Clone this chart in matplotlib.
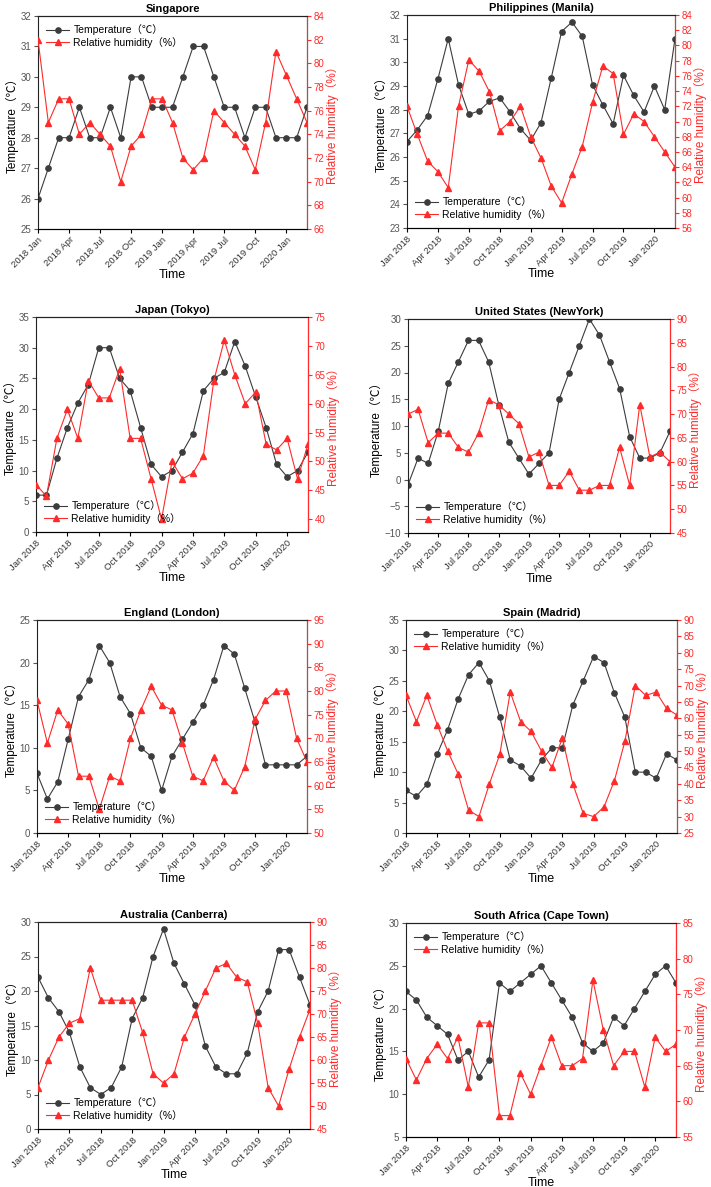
import matplotlib
matplotlib.use("Agg")
import matplotlib.pyplot as plt
import numpy as np

plt.rcParams['font.family'] = ['Liberation Sans', 'Noto Sans CJK SC', 'DejaVu Sans']

# Monthly data Jan 2018 - Mar 2020 (27 months)
months = list(range(27))
tick_idx = [0, 3, 6, 9, 12, 15, 18, 21, 24]
labels_sg = ["2018 Jan", "2018 Apr", "2018 Jul", "2018 Oct", "2019 Jan",
             "2019 Apr", "2019 Jul", "2019 Oct", "2020 Jan"]
labels_std = ["Jan 2018", "Apr 2018", "Jul 2018", "Oct 2018", "Jan 2019",
              "Apr 2019", "Jul 2019", "Oct 2019", "Jan 2020"]

sg_temp = [26, 27, 28, 28, 29, 28, 28, 29, 28, 30, 30, 29, 29, 29, 30, 31, 31, 30, 29, 29, 28, 29, 29, 28, 28, 28, 29]
sg_rh = [82, 75, 77, 77, 74, 75, 74, 73, 70, 73, 74, 77, 77, 75, 72, 71, 72, 76, 75, 74, 73, 71, 75, 81, 79, 77, 75]

ph_temp = [26.65, 27.15, 27.75, 29.3, 31.0, 29.05, 27.8, 27.95, 28.35, 28.5, 27.9, 27.2, 26.7, 27.45,
           29.35, 31.3, 31.7, 31.1, 29.05, 28.2, 27.4, 29.45, 28.6, 27.9, 29.0, 28.0, 31.0]
ph_rh = [72, 68.3, 64.8, 63.4, 61.3, 72, 78.1, 76.6, 73.9, 68.8, 70, 72, 68, 65.2, 61.5, 59.3,
         63.1, 66.7, 72.5, 77.3, 76.3, 68.3, 71, 70, 68, 66, 64]

jp_temp = [6, 6, 12, 17, 21, 24, 30, 30, 25, 23, 17, 11, 9, 10, 13, 16, 23, 25, 26, 31, 27, 22, 17, 11, 9, 10, 13]
jp_rh = [46, 44, 54, 59, 54, 64, 61, 61, 66, 54, 54, 47, 40, 50, 47, 48, 51, 64, 71, 65, 60, 62, 53, 52, 54, 47, 53]

us_temp = [-1, 4, 3, 9, 18, 22, 26, 26, 22, 14, 7, 4, 1, 3, 5, 15, 20, 25, 30, 27, 22, 17, 8, 4, 4, 5, 9]
us_rh = [70, 71, 64, 66, 66, 63, 62, 66, 73, 72, 70, 68, 61, 62, 55, 55, 58, 54, 54, 55, 55, 63, 55, 72, 61, 62, 60]

en_temp = [7, 4, 6, 11, 16, 18, 22, 20, 16, 14, 10, 9, 5, 9, 11, 13, 15, 18, 22, 21, 17, 13, 8, 8, 8, 8, 9]
en_rh = [78, 69, 76, 73, 62, 62, 55, 62, 61, 70, 76, 81, 77, 76, 69, 62, 61, 66, 61, 59, 64, 74, 78, 80, 80, 70, 65]

es_temp = [7, 6, 8, 13, 17, 22, 26, 28, 25, 19, 12, 11, 9, 12, 14, 14, 21, 25, 29, 28, 23, 19, 10, 10, 9, 13, 12]
es_rh = [67, 59, 67, 58, 50, 43, 32, 30, 40, 49, 68, 59, 56, 50, 45, 54, 40, 31, 30, 33, 41, 53, 70, 67, 68, 63, 61]

au_temp = [22, 19, 17, 14, 9, 6, 5, 6, 9, 16, 19, 25, 29, 24, 21, 18, 12, 9, 8, 8, 11, 17, 20, 26, 26, 22, 18]
au_rh = [54, 60, 65, 68, 69, 80, 73, 73, 73, 73, 66, 57, 55, 57, 65, 70, 75, 80, 81, 78, 77, 68, 54, 50, 58, 65, 71]

za_temp = [22, 21, 19, 18, 17, 14, 15, 12, 14, 23, 22, 23, 24, 25, 23, 21, 19, 16, 15, 16, 19, 18, 20, 22, 24, 25, 23]
za_rh = [66, 63, 66, 68, 66, 69, 62, 71, 71, 58, 58, 64, 61, 65, 69, 65, 65, 66, 77, 70, 65, 67, 67, 62, 69, 67, 68]

W, H = 711, 1187
DARK = '#3c3c3c'
RED = '#ff2a2a'

# (title, temp, rh, tick labels, temp ticks, rh ticks, rh lim, legend loc, axes box in px: left, top, right, bottom)
panels = [
    ("Singapore", sg_temp, sg_rh, labels_sg, np.arange(25, 33, 1), np.arange(66, 85, 2), (66, 84), 'upper left', (38, 16, 307, 229)),
    ("Philippines (Manila)", ph_temp, ph_rh, labels_std, np.arange(23, 33, 1), np.arange(56, 85, 2), (56, 84), 'lower left', (407, 15, 675, 228)),
    ("Japan (Tokyo)", jp_temp, jp_rh, labels_std, np.arange(0, 36, 5), np.arange(40, 76, 5), (37.8, 75), 'lower left', (36, 317, 308, 532)),
    ("United States (NewYork)", us_temp, us_rh, labels_std, np.arange(-10, 31, 5), np.arange(45, 91, 5), (45, 90), 'lower left', (408, 319, 670, 533)),
    ("England (London)", en_temp, en_rh, labels_std, np.arange(0, 26, 5), np.arange(50, 96, 5), (50, 95), 'lower left', (37, 620, 307, 833)),
    ("Spain (Madrid)", es_temp, es_rh, labels_std, np.arange(0, 36, 5), np.arange(25, 91, 5), (25, 90), 'upper left', (406, 620, 677, 833)),
    ("Australia (Canberra)", au_temp, au_rh, labels_std, np.arange(0, 31, 5), np.arange(45, 91, 5), (45, 90), 'lower left', (38, 922, 310, 1129)),
    ("South Africa (Cape Town)", za_temp, za_rh, labels_std, np.arange(5, 31, 5), np.arange(55, 86, 5), (55, 85), 'upper left', (406, 923, 676, 1137)),
]

fig = plt.figure(figsize=(W / 100, H / 100), dpi=100)

for title, temp, rh, xlabels, tticks, rticks, rlim, loc, box in panels:
    l, t, r, b = box
    ax = fig.add_axes([l / W, 1 - b / H, (r - l) / W, (b - t) / H])
    ax2 = ax.twinx()

    l1, = ax.plot(months, temp, color=DARK, marker='o', markersize=3.8, linewidth=0.8,
                  label='Temperature（℃）')
    l2, = ax2.plot(months, rh, color=RED, marker='^', markersize=4.2, linewidth=0.8,
                   label='Relative humidity（%）')

    ax.set_xlim(0, 26)
    ax.set_ylim(tticks[0], tticks[-1])
    ax.set_yticks(tticks)
    ax2.set_ylim(*rlim)
    ax2.set_yticks(rticks)

    ax.set_xticks(tick_idx)
    ax.set_xticklabels(xlabels, rotation=45, ha='right', rotation_mode='anchor', fontsize=6.8, color='#333333')
    ax.tick_params(axis='y', labelsize=7, colors='#555555', direction='out', length=3, pad=2)
    ax.tick_params(axis='x', direction='out', length=3, pad=1.5)
    ax2.tick_params(axis='y', labelsize=7, colors=RED, direction='out', length=3, pad=2)
    ax2.spines['right'].set_color(RED)
    ax2.spines['left'].set_visible(False)
    for s in ['left', 'top', 'bottom']:
        ax.spines[s].set_color('#222222')
        ax.spines[s].set_linewidth(0.8)
    ax2.spines['right'].set_linewidth(0.8)
    ax2.spines['top'].set_color('#222222')
    ax2.spines['top'].set_linewidth(0.8)

    ax.set_title(title, fontsize=8, fontweight='bold', pad=3)
    ax.set_xlabel('Time', fontsize=9, labelpad=0)
    ax.set_ylabel('Temperature（℃）', fontsize=8.5, labelpad=1)
    ax2.set_ylabel('Relative humidity（%）', fontsize=8.5, color=RED, labelpad=1)

    ax2.legend([l1, l2], [l1.get_label(), l2.get_label()], loc=loc, frameon=False,
               fontsize=7.5, handlelength=2.2, handletextpad=0.4,
               borderaxespad=0.4, labelspacing=0.15)

fig.savefig('out.png', dpi=100, facecolor='white')
